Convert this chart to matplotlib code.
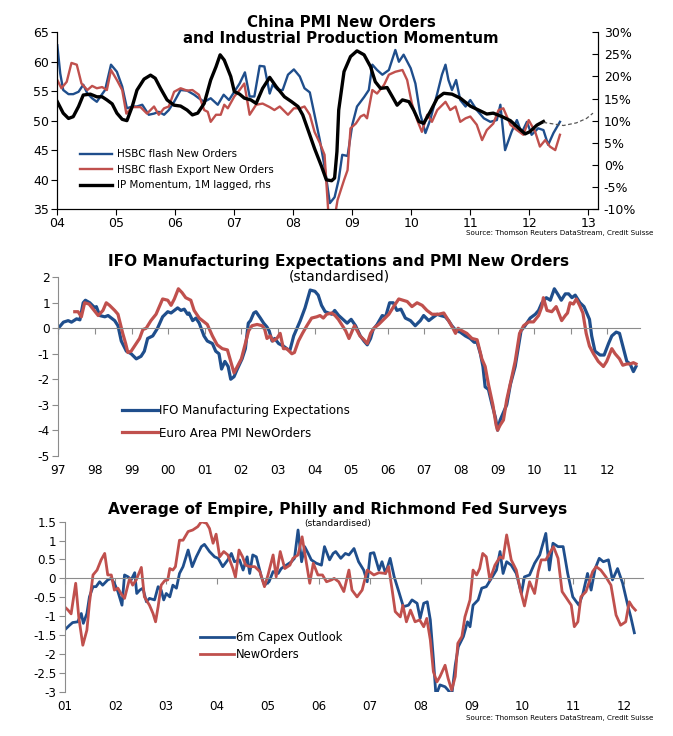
import numpy as np
import matplotlib
matplotlib.use("Agg")
import matplotlib.pyplot as plt
from matplotlib.ticker import FuncFormatter

plt.rcParams['font.family'] = ['DejaVu Sans']
plt.rcParams['axes.unicode_minus'] = False

BLUE = '#1f4e8c'
RED = '#c0504d'
GREY = '#8c8c8c'

# ---------------- panel 1: China PMI ----------------
cn_orders_t = [2004.00, 2004.05, 2004.10, 2004.19, 2004.27, 2004.36, 2004.44, 2004.51, 2004.59, 2004.67,
               2004.73, 2004.81, 2004.91, 2005.01, 2005.10, 2005.18, 2005.27, 2005.35, 2005.44, 2005.55,
               2005.64, 2005.72, 2005.81, 2005.89, 2005.98, 2006.09, 2006.20, 2006.32, 2006.40, 2006.49,
               2006.60, 2006.72, 2006.82, 2006.91, 2007.00, 2007.09, 2007.18, 2007.26, 2007.34, 2007.43,
               2007.51, 2007.60, 2007.65, 2007.74, 2007.82, 2007.91, 2008.01, 2008.11, 2008.19, 2008.28,
               2008.36, 2008.45, 2008.53, 2008.62, 2008.70, 2008.77, 2008.83, 2008.92, 2009.00, 2009.08,
               2009.20, 2009.28, 2009.34, 2009.42, 2009.51, 2009.62, 2009.73, 2009.79, 2009.87, 2009.99,
               2010.07, 2010.15, 2010.24, 2010.32, 2010.44, 2010.52, 2010.58, 2010.63, 2010.69, 2010.76,
               2010.83, 2010.92, 2011.00, 2011.11, 2011.23, 2011.34, 2011.45, 2011.51, 2011.59, 2011.70,
               2011.79, 2011.87, 2011.96, 2012.04, 2012.15, 2012.24, 2012.32, 2012.41, 2012.52]
cn_orders = [62.8, 58.0, 55.2, 54.5, 54.5, 54.9, 56.1, 54.6, 53.8, 53.2,
             54.1, 55.2, 59.5, 58.3, 55.8, 52.1, 52.4, 52.4, 52.7, 51.0,
             51.2, 51.5, 51.0, 51.8, 53.2, 55.2, 55.1, 54.4, 53.8, 53.2,
             53.8, 52.7, 54.4, 53.5, 54.9, 56.3, 58.2, 54.1, 54.1, 59.3,
             59.2, 54.6, 56.1, 55.2, 55.2, 57.8, 58.7, 57.5, 55.5, 54.8,
             51.0, 46.7, 42.2, 36.0, 37.0, 40.0, 44.2, 44.0, 49.3, 52.4,
             54.0, 55.2, 59.5, 58.6, 57.8, 58.6, 62.0, 60.0, 61.2, 58.9,
             56.3, 51.2, 47.9, 50.1, 54.6, 57.8, 59.5, 56.9, 55.2, 56.9,
             53.5, 52.4, 53.5, 51.8, 50.4, 49.8, 50.1, 52.7, 45.0, 48.1,
             50.1, 47.9, 49.8, 47.6, 48.7, 48.4, 45.9, 47.9, 49.8]

cn_export_t = [2004.00, 2004.07, 2004.16, 2004.24, 2004.33, 2004.41, 2004.51, 2004.59, 2004.67, 2004.76,
               2004.84, 2004.91, 2005.01, 2005.10, 2005.17, 2005.27, 2005.41, 2005.52, 2005.64, 2005.72,
               2005.81, 2005.89, 2005.98, 2006.09, 2006.20, 2006.29, 2006.40, 2006.49, 2006.55, 2006.60,
               2006.69, 2006.77, 2006.83, 2006.89, 2007.00, 2007.09, 2007.17, 2007.26, 2007.37, 2007.48,
               2007.60, 2007.68, 2007.77, 2007.91, 2008.01, 2008.11, 2008.19, 2008.28, 2008.36, 2008.45,
               2008.53, 2008.59, 2008.63, 2008.70, 2008.75, 2008.86, 2008.92, 2008.97, 2009.06, 2009.14,
               2009.20, 2009.25, 2009.34, 2009.42, 2009.54, 2009.62, 2009.73, 2009.85, 2009.93, 2010.01,
               2010.10, 2010.18, 2010.27, 2010.35, 2010.44, 2010.58, 2010.66, 2010.75, 2010.83, 2010.92,
               2011.00, 2011.11, 2011.20, 2011.28, 2011.39, 2011.48, 2011.56, 2011.68, 2011.79, 2011.90,
               2011.99, 2012.10, 2012.18, 2012.27, 2012.35, 2012.44, 2012.52]
cn_export = [56.9, 55.5, 56.6, 59.8, 59.5, 56.3, 55.2, 55.9, 55.5, 55.7,
             55.2, 58.6, 56.9, 55.2, 51.2, 52.3, 52.3, 51.2, 52.4, 51.0,
             52.1, 52.4, 54.9, 55.5, 55.1, 55.2, 54.4, 51.8, 51.5, 49.8,
             51.0, 51.0, 52.7, 52.1, 54.1, 55.2, 56.3, 51.0, 52.7, 52.9,
             52.3, 51.8, 52.4, 51.0, 52.1, 52.1, 52.4, 51.0, 48.1, 46.2,
             44.2, 35.0, 32.0, 33.5, 36.5, 39.9, 41.6, 48.7, 49.5, 50.7,
             51.0, 50.4, 55.2, 54.6, 56.1, 57.8, 58.3, 58.6, 56.9, 52.9,
             50.1, 48.1, 51.0, 49.8, 51.8, 53.2, 51.8, 52.4, 49.8, 50.4,
             50.7, 49.3, 46.7, 48.4, 49.5, 51.8, 52.1, 49.3, 48.4, 47.6,
             50.1, 48.1, 45.6, 46.7, 45.6, 45.0, 47.6]

ip_mom_t = [2004.00, 2004.10, 2004.19, 2004.27, 2004.36, 2004.44, 2004.56, 2004.67, 2004.76, 2004.84,
            2004.93, 2005.01, 2005.10, 2005.18, 2005.27, 2005.35, 2005.47, 2005.58, 2005.66, 2005.75,
            2005.86, 2005.98, 2006.09, 2006.20, 2006.29, 2006.38, 2006.49, 2006.60, 2006.69, 2006.76,
            2006.83, 2006.94, 2007.00, 2007.09, 2007.17, 2007.28, 2007.37, 2007.48, 2007.60, 2007.71,
            2007.85, 2007.97, 2008.08, 2008.16, 2008.25, 2008.36, 2008.48, 2008.56, 2008.65, 2008.70,
            2008.74, 2008.77, 2008.86, 2008.97, 2009.08, 2009.20, 2009.31, 2009.39, 2009.48, 2009.59,
            2009.68, 2009.76, 2009.85, 2009.96, 2010.04, 2010.13, 2010.21, 2010.32, 2010.44, 2010.55,
            2010.69, 2010.83, 2011.00, 2011.14, 2011.28, 2011.39, 2011.54, 2011.68, 2011.82, 2011.93,
            2012.01, 2012.13, 2012.24]
ip_mom = [14.3, 11.7, 10.5, 10.9, 13.2, 15.8, 16.0, 15.4, 15.4, 14.7,
          13.8, 11.7, 10.3, 10.0, 13.2, 16.9, 19.4, 20.3, 19.6, 17.3,
          14.7, 13.5, 13.3, 12.4, 11.3, 11.7, 13.9, 19.2, 22.2, 24.9,
          23.7, 20.0, 16.6, 16.0, 15.1, 14.7, 13.9, 17.3, 19.8, 17.7,
          15.4, 14.3, 13.2, 11.3, 7.9, 3.7, -0.4, -3.4, -3.6, -3.0,
          3.0, 12.4, 21.1, 24.5, 25.8, 24.9, 22.2, 18.8, 17.3, 17.5,
          15.4, 13.5, 14.7, 14.3, 12.4, 9.8, 9.4, 12.0, 15.1, 16.2,
          16.0, 15.1, 13.3, 12.4, 11.5, 11.7, 10.9, 10.0, 8.3, 7.0,
          7.5, 9.0, 9.8]

ip_fcst_t = [2012.24, 2012.58, 2012.80, 2012.97, 2013.08]
ip_fcst = [9.6, 8.9, 9.5, 10.5, 11.7]

# ---------------- panel 2: IFO vs Euro PMI ----------------
ifo_t = [1997.00, 1997.14, 1997.27, 1997.36, 1997.50, 1997.59, 1997.68, 1997.74, 1997.86, 1998.00,
         1998.04, 1998.13, 1998.27, 1998.36, 1998.45, 1998.54, 1998.63, 1998.72, 1998.86, 1998.99,
         1999.13, 1999.26, 1999.35, 1999.44, 1999.58, 1999.71, 1999.85, 1999.99, 2000.08, 2000.17,
         2000.26, 2000.35, 2000.44, 2000.53, 2000.57, 2000.67, 2000.76, 2000.85, 2000.98, 2001.07,
         2001.21, 2001.30, 2001.39, 2001.46, 2001.55, 2001.64, 2001.71, 2001.80, 2001.89, 2002.02,
         2002.11, 2002.19, 2002.25, 2002.34, 2002.40, 2002.52, 2002.61, 2002.70, 2002.76, 2002.84,
         2002.91, 2003.02, 2003.15, 2003.29, 2003.33, 2003.43, 2003.52, 2003.61, 2003.74, 2003.88,
         2004.01, 2004.10, 2004.19, 2004.29, 2004.38, 2004.47, 2004.55, 2004.66, 2004.89, 2005.00,
         2005.12, 2005.25, 2005.35, 2005.44, 2005.53, 2005.60, 2005.71, 2005.85, 2005.94, 2006.05,
         2006.15, 2006.25, 2006.36, 2006.48, 2006.62, 2006.75, 2006.89, 2006.98, 2007.12, 2007.21,
         2007.35, 2007.44, 2007.57, 2007.66, 2007.75, 2007.87, 2007.98, 2008.12, 2008.25, 2008.36,
         2008.44, 2008.53, 2008.60, 2008.66, 2008.75, 2008.85, 2008.94, 2009.00, 2009.07, 2009.16,
         2009.25, 2009.35, 2009.48, 2009.57, 2009.64, 2009.75, 2009.89, 2010.03, 2010.12, 2010.21,
         2010.33, 2010.44, 2010.55, 2010.66, 2010.74, 2010.85, 2010.94, 2011.03, 2011.12, 2011.25,
         2011.36, 2011.51, 2011.57, 2011.66, 2011.80, 2011.91, 2012.03, 2012.12, 2012.24, 2012.33,
         2012.42, 2012.53, 2012.62, 2012.71, 2012.78]
ifo = [0.0, 0.24, 0.30, 0.24, 0.37, 0.33, 1.0, 1.1, 1.0, 0.8,
       0.85, 0.5, 0.45, 0.5, 0.4, 0.3, 0.1, -0.5, -0.9, -1.0,
       -1.2, -1.1, -0.9, -0.4, -0.3, 0.0, 0.45, 0.65, 0.6, 0.7,
       0.8, 0.7, 0.75, 0.55, 0.6, 0.3, 0.4, 0.2, -0.3, -0.5,
       -0.6, -0.9, -1.0, -1.6, -1.3, -1.5, -2.0, -1.9, -1.6, -1.2,
       -0.8, 0.2, 0.3, 0.6, 0.65, 0.4, 0.2, 0.05, -0.1, -0.5,
       -0.4, -0.6, -0.7, -0.85, -0.85, -0.3, 0.0, 0.3, 0.8, 1.5,
       1.45, 1.3, 0.9, 0.65, 0.6, 0.55, 0.7, 0.5, 0.2, 0.35,
       0.1, -0.3, -0.5, -0.65, -0.4, -0.05, 0.15, 0.5, 0.45, 1.0,
       1.0, 0.7, 0.75, 0.4, 0.3, 0.1, 0.3, 0.5, 0.3, 0.4,
       0.55, 0.5, 0.45, 0.3, 0.1, -0.1, -0.15, -0.3, -0.4, -0.55,
       -0.55, -1.0, -1.5, -2.3, -2.4, -3.0, -3.5, -4.0, -3.6, -3.3,
       -3.0, -2.2, -1.5, -0.7, -0.1, 0.1, 0.4, 0.55, 0.7, 1.0,
       1.2, 1.1, 1.55, 1.3, 1.1, 1.35, 1.35, 1.2, 1.3, 1.0,
       0.85, 0.35, -0.3, -0.9, -1.05, -1.05, -0.6, -0.3, -0.15, -0.2,
       -0.7, -1.3, -1.4, -1.7, -1.5]

ez_pmi_t = [1997.45, 1997.54, 1997.63, 1997.72, 1997.84, 1997.98, 1998.09, 1998.22, 1998.31, 1998.40,
            1998.54, 1998.63, 1998.76, 1998.84, 1998.90, 1998.99, 1999.13, 1999.22, 1999.31, 1999.40,
            1999.53, 1999.67, 1999.76, 1999.85, 1999.99, 2000.08, 2000.17, 2000.28, 2000.38, 2000.48,
            2000.62, 2000.71, 2000.85, 2000.98, 2001.07, 2001.21, 2001.34, 2001.48, 2001.62, 2001.71,
            2001.80, 2001.89, 2002.00, 2002.11, 2002.20, 2002.29, 2002.43, 2002.57, 2002.64, 2002.70,
            2002.79, 2002.86, 2002.97, 2003.06, 2003.15, 2003.24, 2003.38, 2003.45, 2003.56, 2003.67,
            2003.79, 2003.92, 2004.06, 2004.15, 2004.24, 2004.33, 2004.47, 2004.56, 2004.65, 2004.85,
            2004.94, 2005.03, 2005.09, 2005.24, 2005.35, 2005.44, 2005.53, 2005.62, 2005.75, 2005.89,
            2006.03, 2006.16, 2006.30, 2006.42, 2006.53, 2006.66, 2006.80, 2006.94, 2007.07, 2007.21,
            2007.39, 2007.53, 2007.66, 2007.78, 2007.85, 2007.92, 2008.03, 2008.16, 2008.30, 2008.44,
            2008.57, 2008.66, 2008.75, 2008.87, 2008.96, 2009.00, 2009.07, 2009.16, 2009.25, 2009.39,
            2009.48, 2009.60, 2009.71, 2009.85, 2009.98, 2010.12, 2010.21, 2010.25, 2010.35, 2010.48,
            2010.60, 2010.71, 2010.75, 2010.85, 2010.91, 2010.98, 2011.07, 2011.15, 2011.24, 2011.33,
            2011.42, 2011.51, 2011.62, 2011.75, 2011.89, 2011.98, 2012.12, 2012.21, 2012.33, 2012.42,
            2012.53, 2012.62, 2012.71, 2012.78]
ez_pmi = [0.65, 0.65, 0.45, 1.0, 0.95, 0.7, 0.5, 0.7, 1.0, 0.9,
          0.7, 0.55, -0.2, -0.6, -0.95, -0.9, -0.6, -0.4, -0.05, 0.0,
          0.3, 0.55, 0.85, 1.15, 1.1, 0.9, 1.15, 1.55, 1.4, 1.2,
          1.1, 0.7, 0.4, 0.25, 0.15, -0.3, -0.65, -0.8, -0.85, -1.3,
          -1.75, -1.5, -1.2, -0.6, -0.1, 0.1, 0.15, 0.1, -0.05, -0.4,
          -0.3, -0.5, -0.4, -0.2, -0.8, -0.8, -1.0, -0.95, -0.5, -0.2,
          0.1, 0.4, 0.45, 0.5, 0.4, 0.55, 0.6, 0.5, 0.35, -0.1,
          -0.4, -0.1, 0.1, -0.3, -0.45, -0.6, -0.2, 0.0, 0.15, 0.35,
          0.55, 0.85, 1.15, 1.1, 1.05, 0.85, 1.0, 0.9, 0.7, 0.55,
          0.55, 0.6, 0.3, 0.0, -0.2, 0.0, -0.1, -0.2, -0.4, -0.45,
          -1.2, -1.5, -2.2, -3.0, -3.8, -4.0, -3.8, -3.6, -2.8, -1.9,
          -1.3, -0.2, 0.1, 0.25, 0.25, 0.5, 0.85, 1.2, 0.7, 0.65,
          0.85, 0.45, 0.3, 0.5, 0.6, 1.0, 0.95, 1.15, 0.9, 0.6,
          -0.2, -0.7, -1.0, -1.3, -1.5, -1.3, -0.8, -1.0, -1.2, -1.45,
          -1.4, -1.4, -1.35, -1.4]

# ---------------- panel 3: regional Fed surveys ----------------
capex_t = [2001.00, 2001.10, 2001.16, 2001.26, 2001.33, 2001.37, 2001.44, 2001.49, 2001.56, 2001.62,
           2001.69, 2001.75, 2001.85, 2001.92, 2001.98, 2002.05, 2002.13, 2002.18, 2002.25, 2002.31,
           2002.38, 2002.42, 2002.48, 2002.54, 2002.61, 2002.67, 2002.77, 2002.84, 2002.90, 2002.95,
           2003.00, 2003.07, 2003.13, 2003.20, 2003.26, 2003.33, 2003.43, 2003.51, 2003.59, 2003.69,
           2003.75, 2003.85, 2003.95, 2004.02, 2004.11, 2004.21, 2004.28, 2004.34, 2004.44, 2004.51,
           2004.59, 2004.64, 2004.70, 2004.77, 2004.87, 2004.93, 2005.02, 2005.10, 2005.20, 2005.26,
           2005.36, 2005.46, 2005.52, 2005.59, 2005.66, 2005.72, 2005.79, 2005.85, 2005.95, 2006.05,
           2006.11, 2006.21, 2006.28, 2006.33, 2006.43, 2006.52, 2006.59, 2006.69, 2006.78, 2006.88,
           2006.95, 2007.01, 2007.08, 2007.18, 2007.24, 2007.31, 2007.40, 2007.48, 2007.57, 2007.66,
           2007.76, 2007.83, 2007.93, 2007.99, 2008.06, 2008.13, 2008.19, 2008.25, 2008.30, 2008.38,
           2008.48, 2008.54, 2008.61, 2008.68, 2008.74, 2008.84, 2008.92, 2008.97, 2009.03, 2009.13,
           2009.20, 2009.29, 2009.39, 2009.49, 2009.56, 2009.62, 2009.69, 2009.78, 2009.88, 2009.98,
           2010.04, 2010.14, 2010.24, 2010.34, 2010.46, 2010.53, 2010.60, 2010.70, 2010.80, 2010.89,
           2010.99, 2011.11, 2011.19, 2011.28, 2011.35, 2011.43, 2011.51, 2011.59, 2011.69, 2011.77,
           2011.87, 2011.97, 2012.07, 2012.13, 2012.20]
capex = [-1.37, -1.24, -1.17, -1.15, -0.93, -1.19, -0.93, -0.49, -0.22, -0.22,
         -0.09, -0.18, -0.04, 0.0, -0.13, -0.35, -0.71, 0.09, 0.04, -0.04,
         0.15, -0.40, -0.31, -0.26, -0.62, -0.53, -0.57, -0.22, -0.31, -0.57,
         -0.40, -0.49, -0.18, -0.26, 0.13, 0.31, 0.75, 0.31, 0.57, 0.84,
         0.90, 0.71, 0.57, 0.53, 0.31, 0.49, 0.66, 0.44, 0.49, 0.22,
         0.57, 0.13, 0.62, 0.57, 0.04, -0.18, -0.09, 0.18, 0.13, 0.26,
         0.35, 0.44, 0.53, 1.28, 0.44, 0.84, 0.66, 0.49, 0.40, 0.35,
         0.84, 0.49, 0.66, 0.71, 0.53, 0.66, 0.62, 0.79, 0.44, 0.22,
         -0.09, 0.66, 0.68, 0.22, 0.44, 0.13, 0.53, 0.04, -0.35, -0.75,
         -0.71, -0.57, -0.66, -1.06, -0.66, -0.62, -1.10, -2.12, -3.1, -2.82,
         -2.87, -2.96, -3.1, -2.30, -1.81, -1.54, -1.15, -1.28, -0.71, -0.57,
         -0.26, -0.22, 0.0, 0.22, 0.71, 0.13, 0.44, 0.35, 0.13, -0.40,
         0.04, 0.09, 0.40, 0.62, 1.19, 0.22, 0.93, 0.84, 0.84, 0.13,
         -0.49, -0.71, -0.40, 0.13, -0.31, 0.26, 0.53, 0.44, 0.49, -0.04,
         0.26, -0.13, -0.71, -1.02, -1.44]

new_orders_t = [2001.00, 2001.07, 2001.13, 2001.22, 2001.28, 2001.36, 2001.44, 2001.49, 2001.56, 2001.64,
                2001.72, 2001.79, 2001.85, 2001.92, 2001.98, 2002.05, 2002.11, 2002.18, 2002.28, 2002.34,
                2002.41, 2002.51, 2002.57, 2002.67, 2002.74, 2002.79, 2002.84, 2002.90, 2002.97, 2003.03,
                2003.07, 2003.13, 2003.18, 2003.26, 2003.33, 2003.43, 2003.52, 2003.62, 2003.69, 2003.79,
                2003.85, 2003.92, 2003.98, 2004.05, 2004.13, 2004.21, 2004.31, 2004.36, 2004.43, 2004.50,
                2004.56, 2004.64, 2004.74, 2004.84, 2004.93, 2005.00, 2005.10, 2005.16, 2005.24, 2005.33,
                2005.43, 2005.49, 2005.59, 2005.67, 2005.75, 2005.82, 2005.89, 2005.98, 2006.07, 2006.15,
                2006.25, 2006.30, 2006.39, 2006.49, 2006.59, 2006.65, 2006.75, 2006.85, 2006.95, 2007.08,
                2007.18, 2007.31, 2007.37, 2007.44, 2007.50, 2007.60, 2007.65, 2007.72, 2007.80, 2007.89,
                2007.98, 2008.06, 2008.12, 2008.19, 2008.25, 2008.32, 2008.38, 2008.48, 2008.54, 2008.61,
                2008.68, 2008.73, 2008.81, 2008.87, 2008.97, 2009.03, 2009.10, 2009.16, 2009.22, 2009.29,
                2009.36, 2009.46, 2009.56, 2009.62, 2009.69, 2009.78, 2009.88, 2009.96, 2010.04, 2010.14,
                2010.24, 2010.31, 2010.37, 2010.46, 2010.53, 2010.61, 2010.70, 2010.78, 2010.89, 2010.96,
                2011.02, 2011.09, 2011.15, 2011.25, 2011.38, 2011.45, 2011.54, 2011.64, 2011.74, 2011.84,
                2011.93, 2012.03, 2012.10, 2012.16, 2012.22]
new_orders = [-0.75, -0.84, -0.94, -0.13, -1.02, -1.77, -1.37, -0.66, 0.09, 0.22,
              0.49, 0.66, 0.09, 0.09, -0.31, -0.26, -0.40, -0.53, 0.0, -0.18,
              -0.04, 0.29, -0.49, -0.71, -0.93, -1.15, -0.75, -0.18, -0.06, -0.04,
              0.26, 0.22, 0.31, 1.01, 1.01, 1.24, 1.28, 1.37, 1.50, 1.46,
              1.32, 0.93, 1.17, 0.57, 0.71, 0.62, 0.26, 0.03, 0.75, 0.57,
              0.35, 0.31, 0.31, 0.18, -0.22, 0.09, 0.62, 0.04, 0.71, 0.26,
              0.35, 0.53, 0.62, 1.10, 0.44, -0.13, 0.40, 0.09, 0.09, -0.09,
              -0.04, 0.0, -0.09, -0.35, 0.22, -0.31, -0.49, -0.31, 0.22, 0.09,
              0.15, 0.13, 0.31, -0.31, -0.88, -1.02, -0.71, -1.15, -0.84, -1.15,
              -1.10, -1.28, -1.06, -1.63, -2.47, -2.74, -2.60, -2.30, -2.65, -2.96,
              -2.60, -1.72, -1.54, -1.02, -0.57, 0.22, 0.09, 0.26, 0.66, 0.57,
              -0.04, 0.35, 0.57, 0.53, 1.15, 0.49, 0.22, -0.31, -0.73, -0.09,
              -0.40, 0.18, 0.49, 0.49, 0.66, 0.84, 0.53, -0.35, -0.57, -0.71,
              -1.28, -1.15, -0.49, -0.35, 0.18, 0.31, 0.22, 0.04, -0.18, -0.97,
              -1.24, -1.15, -0.62, -0.75, -0.84]

W, H = 673, 736


def box(l, t, r, b):
    return [l / W, 1 - b / H, (r - l) / W, (b - t) / H]


fig = plt.figure(figsize=(W / 100, H / 100), dpi=100)

# ---- panel 1 ----
ax1 = fig.add_axes(box(57.3, 32.3, 598.3, 209))
l1, = ax1.plot(cn_orders_t, cn_orders, color=BLUE, lw=1.7)
l2, = ax1.plot(cn_export_t, cn_export, color=RED, lw=1.7)
ax1.set_xlim(2004, 2013.17)
ax1.set_ylim(35, 65)
ax1.set_yticks(range(35, 66, 5))
ax1.set_xticks(range(2004, 2014))
ax1.set_xticklabels(['%02d' % (y % 100) for y in range(2004, 2014)])
ax1.tick_params(axis='both', direction='out', length=4, labelsize=9, pad=2)
ax1.spines['top'].set_visible(False)

ax1r = ax1.twinx()
l3, = ax1r.plot(ip_mom_t, ip_mom, color='black', lw=2.4)
ax1r.plot(ip_fcst_t, ip_fcst, color='#555555', lw=0.9, ls=(0, (3, 2)))
ax1r.set_ylim(-10, 30)
ax1r.set_yticks(range(-10, 31, 5))
ax1r.yaxis.set_major_formatter(FuncFormatter(lambda v, p: '%d%%' % v))
ax1r.tick_params(axis='y', direction='in', length=4, labelsize=9, pad=4)
ax1r.spines['top'].set_visible(False)
ax1r.legend([l1, l2, l3], ['HSBC flash New Orders', 'HSBC flash Export New Orders',
                           'IP Momentum, 1M lagged, rhs'],
            loc='upper left', bbox_to_anchor=(0.042, 0.337), borderaxespad=0, borderpad=0,
            frameon=False, fontsize=7.4, handlelength=3.1, handletextpad=0.45, labelspacing=0.52)

fig.text(341 / W, 1 - 27.3 / H, 'China PMI New Orders', ha='center', va='baseline',
         fontsize=10.8, fontweight='bold')
fig.text(341 / W, 1 - 43.3 / H, 'and Industrial Production Momentum', ha='center', va='baseline',
         fontsize=10.8, fontweight='bold')
fig.text(653 / W, 1 - 233 / H, 'Source: Thomson Reuters DataStream, Credit Suisse',
         ha='right', va='center', fontsize=5.1)


def zero_axis(ax, years, labels, pad):
    ax.spines['top'].set_visible(False)
    ax.spines['right'].set_visible(False)
    ax.spines['bottom'].set_position(('data', 0))
    ax.spines['bottom'].set_color(GREY)
    ax.spines['left'].set_color(GREY)
    ax.set_xticks(years)
    ax.tick_params(axis='x', direction='out', length=4, color=GREY, labelbottom=False)
    ax.tick_params(axis='y', direction='out', length=4, color=GREY)
    sec = ax.secondary_xaxis(0.0)
    sec.set_xticks(years)
    sec.set_xticklabels(labels)
    sec.tick_params(length=0, pad=pad)
    sec.spines['bottom'].set_visible(False)
    return sec


# ---- panel 2 ----
ax2 = fig.add_axes(box(58.3, 277.3, 640, 455.7))
ax2.plot(ifo_t, ifo, color=BLUE, lw=2.3, label='IFO Manufacturing Expectations')
ax2.plot(ez_pmi_t, ez_pmi, color=RED, lw=2.3, label='Euro Area PMI NewOrders')
ax2.set_xlim(1997, 2012.89)
ax2.set_ylim(-5, 2)
ax2.set_yticks(range(-5, 3))
yrs2 = list(range(1997, 2013))
sec2 = zero_axis(ax2, yrs2, ['%02d' % (y % 100) for y in yrs2], 6)
sec2.tick_params(labelsize=8.8)
ax2.tick_params(axis='y', labelsize=8.8, pad=2)
ax2.legend(loc='upper left', bbox_to_anchor=(0.1095, 0.29), borderaxespad=0, borderpad=0,
           frameon=False, fontsize=8.6, handlelength=3.0, handletextpad=0.1, labelspacing=0.8)
fig.text(339 / W, 1 - 265.7 / H, 'IFO Manufacturing Expectations and PMI New Orders',
         ha='center', va='baseline', fontsize=11.1, fontweight='bold')
fig.text(339 / W, 1 - 280.5 / H, '(standardised)', ha='center', va='baseline', fontsize=10)

# ---- panel 3 ----
ax3 = fig.add_axes(box(64.5, 521.7, 643, 691.7))
ax3.plot(capex_t, capex, color=BLUE, lw=2.0, label='6m Capex Outlook')
ax3.plot(new_orders_t, new_orders, color=RED, lw=2.0, label='NewOrders')
ax3.set_xlim(2001, 2012.37)
ax3.set_ylim(-3, 1.5)
ax3.set_yticks(np.arange(-3, 1.51, 0.5))
ax3.yaxis.set_major_formatter(FuncFormatter(lambda v, p: '%g' % v))
yrs3 = list(range(2001, 2013))
sec3 = zero_axis(ax3, yrs3, ['%02d' % (y % 100) for y in yrs3], 6)
sec3.tick_params(labelsize=8.6)
ax3.tick_params(axis='y', labelsize=8.6, pad=2)
ax3.legend(loc='upper left', bbox_to_anchor=(0.234, 0.355), borderaxespad=0, borderpad=0,
           frameon=False, fontsize=8.3, handlelength=3.0, handletextpad=0.1, labelspacing=0.35)
fig.text(338 / W, 1 - 514 / H, 'Average of Empire, Philly and Richmond Fed Surveys',
         ha='center', va='baseline', fontsize=11.1, fontweight='bold')
fig.text(338 / W, 1 - 526 / H, '(standardised)', ha='center', va='baseline', fontsize=6.6)
fig.text(653 / W, 1 - 718 / H, 'Source: Thomson Reuters DataStream, Credit Suisse',
         ha='right', va='center', fontsize=5.1)

fig.savefig('out.png', dpi=100)
